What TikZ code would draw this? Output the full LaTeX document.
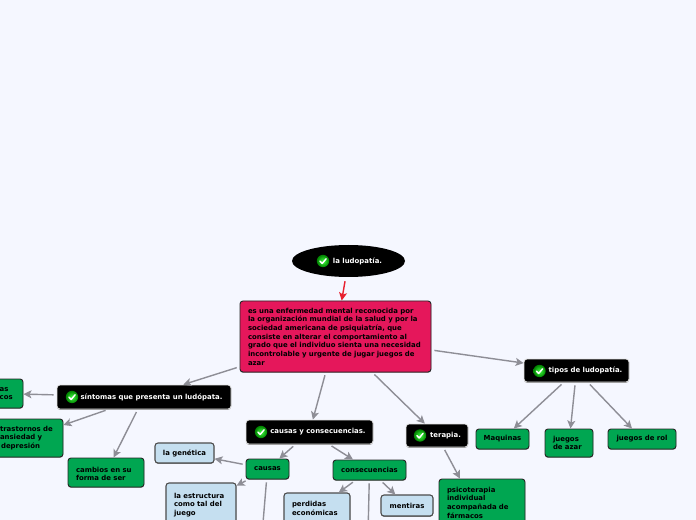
\documentclass[tikz,border=0pt]{standalone}
\usepackage{fontspec}
\setmainfont{DejaVu Sans}
\usetikzlibrary{arrows.meta,shapes.geometric,shadows}
\definecolor{bgc}{HTML}{F5F7FF}
\definecolor{grn}{HTML}{00A651}
\definecolor{blu}{HTML}{C5DFF0}
\definecolor{pnk}{HTML}{E5175B}
\definecolor{linec}{HTML}{8E8E96}
\definecolor{redc}{HTML}{E8202F}
\newcommand\lowerit[1]{\raisebox{-.8pt}{#1}}
\tikzset{
  sz/.style 2 args={minimum width=#1*.75pt,minimum height=#2*.75pt},
  base/.style={font=\bfseries\fontsize{5.2}{6.5}\selectfont,rounded corners=2.2pt,inner sep=0pt,
    copy shadow={shadow xshift=0pt,shadow yshift=-.6pt,fill=black!45,draw=none}},
  blackbox/.style={base,fill=black,draw=white!80!gray,line width=.6pt,text=white},
  greenbox/.style={base,fill=grn,draw=black!85,line width=.7pt,text=black},
  bluebox/.style={base,fill=blu,draw=black!70,line width=.8pt,text=black},
  pinkbox/.style={base,fill=pnk,draw=black!85,line width=.7pt,text=black},
  blackoval/.style={ellipse,font=\bfseries\fontsize{5.2}{6.5}\selectfont,fill=black,text=white,inner sep=0pt},
  txt/.style={text width=#1*.75pt,align=left},
  conn/.style={draw=linec,line width=1.05pt,shorten <=2.2pt,-{Stealth[length=6pt,width=6pt,inset=1.4pt,fill=linec]}},
  redconn/.style={draw=redc,line width=1.05pt,shorten <=3pt,-{Stealth[length=6pt,width=6pt,inset=1.4pt,fill=redc]}},
  chk/.pic={
    \shade[inner color=green!75!white,outer color=green!50!black] (0,0) circle[radius=6.2];
    \draw[white,line width=1.1pt,line cap=round,line join=round] (-3,0.2) -- (-0.8,2.5) -- (3.1,-2.2);
  }
}
\begin{document}
\begin{tikzpicture}[x=.75pt,y=-.75pt]
\useasboundingbox (0,0) rectangle (696,520);
\clip (0,0) rectangle (696,520);
\fill[bgc] (0,0) rectangle (696,520);
% nodes
\node[blackoval,sz={113}{32}] (root) at (348.5,261) {\hspace*{13.5pt}la ludopatía.};
\node[pinkbox,sz={191}{71},txt=175] (main) at (335.5,336.5) {es una enfermedad mental reconocida por\\la organización mundial de la salud y por la\\sociedad americana de psiquiatría, que\\consiste en alterar el comportamiento al\\grado que el individuo sienta una necesidad\\incontrolable y urgente de jugar juegos de\\azar};
\node[blackbox,sz={174}{24}] (sint) at (144,397) {\hspace*{11.25pt}síntomas que presenta un ludópata.};
\node[greenbox,sz={50}{29},txt=50] (fis) at (-2,393.5) {\hspace*{20pt}as\\\hspace*{20pt}cos};
\node[greenbox,sz={74}{38},txt=52] (tras) at (26,438) {\mbox{trastornos de}\\ansiedad y\\\hspace*{.8pt}depresión};
\node[greenbox,sz={76}{29},txt=60] (camb) at (106,472.5) {\rule{0pt}{6pt}cambios en su\\forma de ser};
\node[blackbox,sz={127}{24}] (cyc) at (309.5,432) {\hspace*{12.75pt}causas y consecuencias.};
\node[bluebox,sz={59}{20}] (gen) at (184.5,453) {\lowerit{la genética}};
\node[bluebox,sz={70}{44},txt=54] (estr) at (201,505) {la estructura\\como tal del\\juego};
\node[greenbox,sz={43}{20}] (caus) at (267.5,469) {causas};
\node[greenbox,sz={73}{20}] (cons) at (369.5,470) {\lowerit{consecuencias}};
\node[bluebox,sz={66}{31},txt=50] (perd) at (317,508.5) {perdidas\\económicas};
\node[bluebox,sz={52}{21}] (ment) at (407,505.5) {mentiras};
\node[blackbox,sz={105}{23}] (tipos) at (576.5,370.5) {\hspace*{13.5pt}\lowerit{tipos de ludopatía.}};
\node[blackbox,sz={62}{23}] (tera) at (437,435.5) {\hspace*{12.75pt}terapia.};
\node[greenbox,sz={53}{20}] (maq) at (502.5,439) {Maquinas};
\node[greenbox,sz={48}{28},txt=32] (azar) at (569,443) {juegos\\de azar};
\node[greenbox,sz={68}{20}] (rol) at (642,439) {juegos de rol};
\node[greenbox,sz={86}{82},txt=70] (psi) at (482,520) {psicoterapia\\individual\\acompañada de\\fármacos\\[19.5pt]\mbox{}};
\coordinate (offa) at (262,535);
\coordinate (offb) at (368,535);
% icons
\pic at (323,261) {chk};
\pic at (72,397) {chk};
\pic at (261,432) {chk};
\pic at (539.5,371) {chk};
\pic at (420,435.5) {chk};
% connectors
\draw[redconn] (root) -- (main);
\draw[conn] (main) -- (sint);
\draw[conn] (main) -- (cyc);
\draw[conn] (main) -- (tera);
\draw[conn] (main) -- (tipos);
\draw[conn] (sint) -- (fis);
\draw[conn] (sint) -- (tras);
\draw[conn] (sint) -- (camb);
\draw[conn] (cyc) -- (caus);
\draw[conn] (cyc) -- (cons);
\draw[conn] (caus) -- (gen);
\draw[conn] (caus) -- (estr);
\draw[conn] (caus) -- (offa);
\draw[conn] (cons) -- (perd);
\draw[conn] (cons) -- (ment);
\draw[conn] (cons) -- (offb);
\draw[conn] (tera) -- (psi);
\draw[conn] (tipos) -- (maq);
\draw[conn] (tipos) -- (azar);
\draw[conn] (tipos) -- (rol);
\end{tikzpicture}
\end{document}
